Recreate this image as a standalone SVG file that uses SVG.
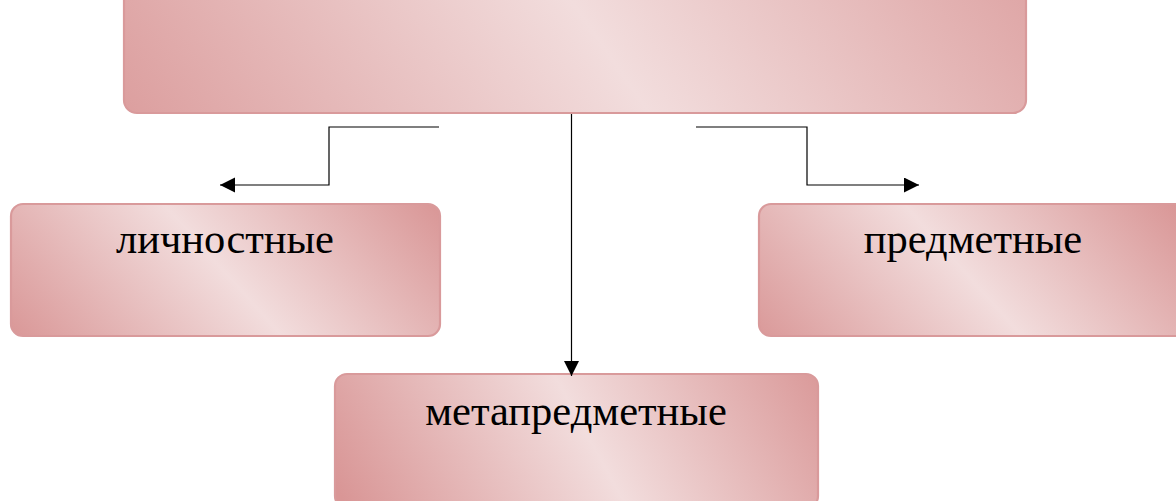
<svg xmlns="http://www.w3.org/2000/svg" width="1176" height="501" viewBox="0 0 1176 501">
  <style>
    .box { stroke: #d99a9b; stroke-width: 2.2; }
    .lbl { font-family: "Liberation Serif", "Times New Roman", serif; font-size: 42.5px; fill: #000; text-anchor: middle; }
    .conn { fill: none; stroke: #000; stroke-width: 1.2; }
  </style>
  <defs>
    <linearGradient id="gTop" gradientUnits="userSpaceOnUse" x1="180" y1="300" x2="990" y2="-260">
      <stop offset="0" stop-color="#d99696"/>
      <stop offset="0.5" stop-color="#f2dddd"/>
      <stop offset="1" stop-color="#d99696"/>
    </linearGradient>
    <linearGradient id="gLeft" gradientUnits="userSpaceOnUse" x1="70" y1="407" x2="376" y2="133">
      <stop offset="0" stop-color="#d99696"/>
      <stop offset="0.5" stop-color="#f2dddd"/>
      <stop offset="1" stop-color="#d99696"/>
    </linearGradient>
    <linearGradient id="gRight" gradientUnits="userSpaceOnUse" x1="810" y1="407" x2="1116" y2="133">
      <stop offset="0" stop-color="#d99696"/>
      <stop offset="0.5" stop-color="#f2dddd"/>
      <stop offset="1" stop-color="#d99696"/>
    </linearGradient>
    <linearGradient id="gMid" gradientUnits="userSpaceOnUse" x1="375" y1="558" x2="805" y2="322">
      <stop offset="0" stop-color="#d99696"/>
      <stop offset="0.5" stop-color="#f2dddd"/>
      <stop offset="1" stop-color="#d99696"/>
    </linearGradient>
    <marker id="arr" markerUnits="userSpaceOnUse" markerWidth="16" markerHeight="16" refX="15" refY="7.5" orient="auto">
      <path d="M0,0 L15,7.5 L0,15 z" fill="#000"/>
    </marker>
  </defs>

  <g id="node-top">
    <rect class="box" x="124" y="-110" width="902" height="223" rx="13" fill="url(#gTop)"/>
  </g>

  <g id="node-lichnostnye">
    <rect class="box" x="11" y="204" width="429" height="132" rx="12" fill="url(#gLeft)"/>
    <text class="lbl" x="225" y="253">личностные</text>
  </g>

  <g id="node-predmetnye">
    <rect class="box" x="759" y="204" width="430" height="132" rx="12" fill="url(#gRight)"/>
    <text class="lbl" x="973" y="253">предметные</text>
  </g>

  <g id="node-metapredmetnye">
    <rect class="box" x="335" y="374" width="483" height="134" rx="12" fill="url(#gMid)"/>
    <text class="lbl" x="576" y="425">метапредметные</text>
  </g>

  <g id="connectors">
    <path class="conn" d="M439,127 H329 V185 H220" marker-end="url(#arr)"/>
    <path class="conn" d="M696,127 H807 V185 H919" marker-end="url(#arr)"/>
    <path class="conn" d="M571.5,114 V376" marker-end="url(#arr)"/>
  </g>
</svg>
